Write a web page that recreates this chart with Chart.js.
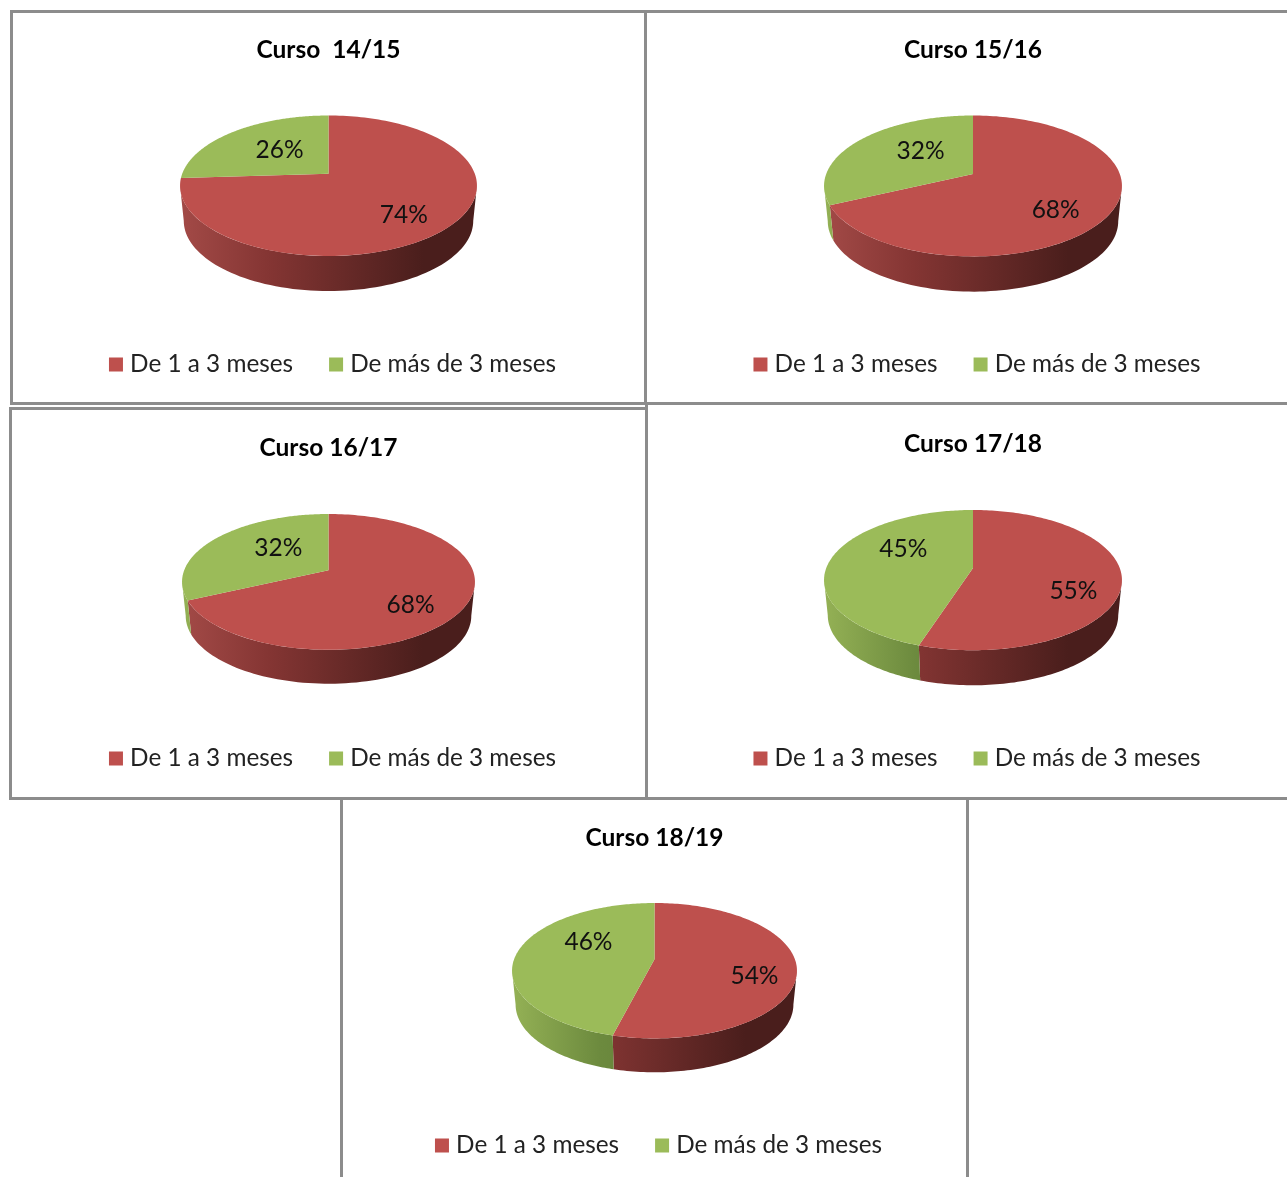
<!DOCTYPE html>
<html lang="es">
<head>
<meta charset="utf-8">
<title>Duración por curso</title>
<script src="https://cdn.jsdelivr.net/npm/chart.js@4/dist/chart.umd.min.js"></script>
<style>
    html, body { margin: 0; padding: 0; background: #fff; overflow: hidden; width: 1287px; height: 1177px; }
    .panel { position: absolute; border: 3px solid #8c8c8c; background: #fff; }
    .panel canvas { display: block; }
    #p0 { left: 10px; top: 10px; width: 631px; height: 389px; }
    #p1 { left: 644px; top: 10px; width: 652px; height: 389px; }
    #p2 { left: 9px; top: 407px; width: 633px; height: 387px; }
    #p3 { left: 645px; top: 402px; width: 650px; height: 392px; }
    #p4 { left: 340px; top: 797px; width: 623px; height: 400px; }
</style>
</head>
<body>
<div class="panel" id="p0"><canvas></canvas></div>
<div class="panel" id="p1"><canvas></canvas></div>
<div class="panel" id="p2"><canvas></canvas></div>
<div class="panel" id="p3"><canvas></canvas></div>
<div class="panel" id="p4"><canvas></canvas></div>

<script>
"use strict";

// Datos
const cursos = ["Curso  14/15", "Curso 15/16", "Curso 16/17", "Curso 17/18", "Curso 18/19"];
const categorias = ["De 1 a 3 meses", "De más de 3 meses"];
const de1a3Meses = [74, 68, 68, 55, 54];
const deMasDe3Meses = [26, 32, 32, 45, 46];

// Estilo
const colores = ["#be504d", "#9bbb59"];
const radios = [148.5, 149, 146.5, 149, 142.5];
const altoPie = [102.5, 102.5, 104, 105, 103];   // borde superior de la tarta dentro del canvas
const achatado = [1, 1, 0.98, 0.995, 1.005];
const centroLeyenda = [336, 336, 333, 338, 330];
const margenTitulo = [22, 22, 23, 24, 23];
// Ajuste fino de los porcentajes: [rojo, verde]
const ajustes = [
    [[-6, 5.5], [20, 6.5]],
    [[-10, 8.5], [29, 1.5]],
    [[-9, 8], [30, 1]],
    [[-3, 15], [30, -12]],
    [[1, 11], [30, -11]]
];
const fuente = "Lato";

// Perspectiva de la tarta 3D (fracciones del radio)
const PERSP = -0.171;
const ESCALA_Y = 0.459;
const ESCALA_X = 0.985;
const FONDO = 0.2365;

// Proyecta un punto del círculo (ang desde arriba, sentido horario) sobre la elipse
function proyectar(r, ang, f, ey) {
    const u = Math.sin(ang) * f, v = -Math.cos(ang) * f;
    const d = 1 + PERSP * v;
    return { x: r * ESCALA_X * u / d, y: r * ESCALA_Y * ey * v / d };
}

const pie3d = {
    id: "pie3d",
    beforeDatasetsDraw(chart, args, opts) {
        const ctx = chart.ctx;
        const arcos = chart.getDatasetMeta(0).data;
        const r = arcos[0].outerRadius;
        const ey = opts.achatado;
        const cx = arcos[0].x;
        const cy = opts.top + r * ESCALA_Y * ey / (1 - PERSP);
        const fondo = r * FONDO * ey;
        const limite = Math.acos(PERSP);   // ángulo de los extremos izquierdo y derecho

        ctx.save();
        ctx.translate(cx, cy);
        arcos.forEach((arco, i) => {
            const a0 = arco.startAngle + Math.PI / 2;
            const a1 = arco.endAngle + Math.PI / 2;

            // Pared lateral, solo la parte de delante
            const p0 = Math.max(a0, limite);
            const p1 = Math.min(a1, 2 * Math.PI - limite);
            if (p1 > p0) {
                const grad = ctx.createLinearGradient(-r, 0, r, 0);
                if (i === 0) {
                    grad.addColorStop(0, "#a34a47");
                    grad.addColorStop(0.3, "#843533");
                    grad.addColorStop(0.55, "#682a28");
                    grad.addColorStop(0.82, "#4a1e1c");
                    grad.addColorStop(1, "#4a1e1c");
                } else {
                    grad.addColorStop(0, "#94b155");
                    grad.addColorStop(0.31, "#6c8a3e");
                    grad.addColorStop(1, "#4f662c");
                }
                ctx.beginPath();
                const pasos = 80;
                for (let k = 0; k <= pasos; k++) {
                    const p = proyectar(r, p0 + (p1 - p0) * k / pasos, 1, ey);
                    ctx.lineTo(p.x, p.y);
                }
                for (let k = pasos; k >= 0; k--) {
                    const p = proyectar(r, p0 + (p1 - p0) * k / pasos, 1, ey);
                    ctx.lineTo(p.x * 0.975, p.y + fondo);
                }
                ctx.closePath();
                ctx.fillStyle = grad;
                ctx.fill();
            }
        });

        // Cara superior
        arcos.forEach(arco => {
            const a0 = arco.startAngle + Math.PI / 2;
            const a1 = arco.endAngle + Math.PI / 2;
            ctx.beginPath();
            ctx.moveTo(0, 0);
            const pasos = 160;
            for (let k = 0; k <= pasos; k++) {
                const p = proyectar(r, a0 + (a1 - a0) * k / pasos, 1, ey);
                ctx.lineTo(p.x, p.y);
            }
            ctx.closePath();
            ctx.fillStyle = arco.options.backgroundColor;
            ctx.fill();
        });
        ctx.restore();

        // Etiquetas de porcentaje
        const valores = chart.data.datasets[0].data;
        ctx.save();
        ctx.font = "24.5px " + fuente;
        ctx.fillStyle = "#111";
        ctx.textAlign = "center";
        ctx.textBaseline = "middle";
        arcos.forEach((arco, i) => {
            const medio = (arco.startAngle + arco.endAngle) / 2 + Math.PI / 2;
            const p = proyectar(r, medio, 0.7, ey);
            const ajuste = opts.ajustes[i];
            ctx.fillText(valores[i] + "%", cx + p.x + ajuste[0], cy + p.y + ajuste[1]);
        });
        ctx.restore();
        return false;   // no dibujar los arcos planos de la librería
    },
    afterLayout(chart, args, opts) {
        // Colocar la leyenda como en el original
        const leyenda = chart.legend;
        const alto = leyenda.bottom - leyenda.top;
        leyenda.top = opts.leyendaY - alto / 2;
        leyenda.bottom = opts.leyendaY + alto / 2;
        leyenda.left += opts.leyendaX;
        leyenda.right += opts.leyendaX;
    }
};

// Un diagrama por curso
cursos.forEach((curso, i) => {
    const panel = document.getElementById("p" + i);
    const canvas = panel.querySelector("canvas");
    canvas.width = panel.clientWidth;
    canvas.height = panel.clientHeight;

    new Chart(canvas, {
        type: "pie",
        data: {
            labels: categorias,
            datasets: [{
                data: [de1a3Meses[i], deMasDe3Meses[i]],
                backgroundColor: colores,
                borderWidth: 0,
                radius: radios[i]
            }]
        },
        options: {
            responsive: false,
            animation: false,
            plugins: {
                title: {
                    display: true,
                    text: curso,
                    color: "#000",
                    font: { family: fuente, size: 24.5, weight: "bold" },
                    padding: { top: margenTitulo[i], bottom: 10 }
                },
                legend: {
                    position: "bottom",
                    labels: {
                        color: "#222",
                        font: { family: fuente, size: 24.3 },
                        usePointStyle: true,
                        pointStyle: "rect",
                        boxWidth: 4,
                        boxHeight: 14,
                        padding: 41
                    }
                },
                tooltip: { enabled: false },
                pie3d: {
                    top: altoPie[i],
                    achatado: achatado[i],
                    leyendaX: 6.5,
                    leyendaY: centroLeyenda[i],
                    ajustes: ajustes[i]
                }
            }
        },
        plugins: [pie3d]
    });
});
</script>
</body>
</html>
